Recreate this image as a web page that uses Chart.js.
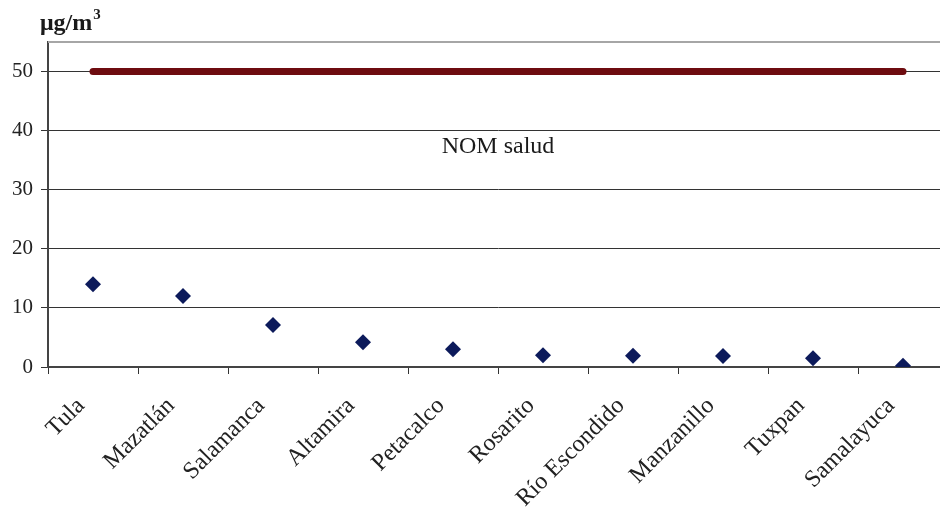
<!DOCTYPE html>
<html><head><meta charset="utf-8">
<script src="https://cdn.jsdelivr.net/npm/chart.js@4/dist/chart.umd.min.js"></script>
<style>html,body{margin:0;padding:0;overflow:hidden;background:#fff}#wrap{width:956px;height:510px;position:relative}</style>
</head><body><div id="wrap"><canvas id="c" width="956" height="510"></canvas></div>
<script>
const categories = ['Tula','Mazatlán','Salamanca','Altamira','Petacalco','Rosarito','Río Escondido','Manzanillo','Tuxpan','Samalayuca'];
const concentrations = [14, 12, 7.1, 4.2, 3, 2, 1.9, 1.85, 1.5, 0.2];
const normValues = [50, 50, 50, 50, 50, 50, 50, 50, 50, 50];
const yMin = 0, yMax = 55, yStep = 10;
const unitBase = 'μg/m', unitSup = '3';
const normLabel = 'NOM salud';
const normLabelPos = {x: 4.5, y: 37.3};

const serif = '"Liberation Serif", "Times New Roman", serif';

const extras = {
  id: 'extras',
  afterDraw(chart) {
    const ctx = chart.ctx, a = chart.chartArea;
    ctx.save();
    ctx.strokeStyle = '#a6a6a6';
    ctx.lineWidth = 2;
    ctx.beginPath();
    ctx.moveTo(a.left, a.top);
    ctx.lineTo(a.right, a.top);
    ctx.stroke();
    ctx.fillStyle = '#1a1a1a';
    ctx.textBaseline = 'alphabetic';
    ctx.textAlign = 'left';
    ctx.font = 'bold 24px ' + serif;
    ctx.fillText(unitBase, 40, 30);
    const w = ctx.measureText(unitBase).width;
    ctx.font = 'bold 15px ' + serif;
    ctx.fillText(unitSup, 40 + w + 1, 19);
    const xs = chart.scales.x, ys = chart.scales.y;
    ctx.font = '24px ' + serif;
    ctx.textAlign = 'center';
    ctx.textBaseline = 'middle';
    ctx.fillText(normLabel, xs.getPixelForValue(normLabelPos.x), ys.getPixelForValue(normLabelPos.y));
    ctx.restore();
  }
};

new Chart(document.getElementById('c'), {
  type: 'line',
  data: {
    labels: categories,
    datasets: [
      {
        data: normValues,
        borderColor: '#6e0c10',
        borderWidth: 7,
        borderCapStyle: 'round',
        pointRadius: 0,
        fill: false
      },
      {
        data: concentrations,
        showLine: false,
        pointStyle: 'rectRot',
        pointRadius: 8,
        pointBackgroundColor: '#0c1a5b',
        pointBorderColor: '#0c1a5b',
        pointBorderWidth: 0
      }
    ]
  },
  options: {
    responsive: false,
    devicePixelRatio: 1,
    animation: false,
    layout: {padding: {top: 42, right: 2, left: 0, bottom: 0}},
    plugins: {legend: {display: false}, tooltip: {enabled: false}},
    scales: {
      x: {
        offset: true,
        grid: {display: true, drawOnChartArea: false, drawTicks: true, tickLength: 7, offset: true, color: '#333'},
        border: {display: true, color: '#444', width: 2},
        ticks: {color: '#222', font: {family: serif, size: 24}, minRotation: 45, maxRotation: 45, padding: 18, labelOffset: -12, autoSkip: false},
        afterFit(s) { s.height = 143; }
      },
      y: {
        min: yMin, max: yMax,
        grid: {color: '#333', lineWidth: 1, tickLength: 7, tickColor: '#333'},
        border: {display: true, color: '#444', width: 2},
        ticks: {stepSize: yStep, includeBounds: false, color: '#222', font: {family: serif, size: 21}, padding: 8},
        afterFit(s) { s.width = 48; }
      }
    }
  },
  plugins: [extras]
});
</script></body></html>
